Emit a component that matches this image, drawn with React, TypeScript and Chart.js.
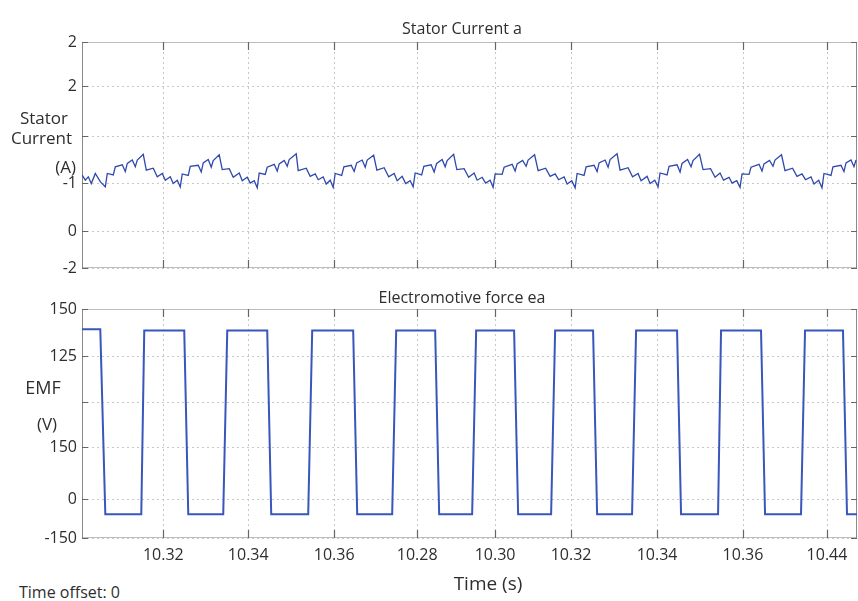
import React, { useEffect, useRef } from "react";
import { Chart, registerables } from "chart.js";

Chart.register(...registerables);

// ---------- data ----------
const xTickTimes = [10.32, 10.34048, 10.3612, 10.3812, 10.4, 10.41832, 10.43905, 10.45977, 10.48002];
const xTickLabels = ["10.32", "10.34", "10.36", "10.28", "10.30", "10.32", "10.34", "10.36", "10.44"];
const timeMin = 10.3004;
const timeMax = 10.48725;

const currentTickValues = [-0.77, 0, 1.0, 1.98, 3.02, 3.94];
const currentTickLabels = ["-2", "0", "-1", "", "2", "2"];

const emfTickValues = [-30.8, 0, 41.0, 76.6, 112.9, 150];
const emfTickLabels = ["-150", "0", "150", "", "125", "150"];

const currentTime = [
  10.3004, 10.3012, 10.30192, 10.30264, 10.30361, 10.30481,
  10.30602, 10.3065, 10.30794, 10.30843, 10.31011, 10.31084, 10.31132, 10.31252, 10.31325, 10.31373, 10.31517, 10.3159, 10.31758, 10.31855, 10.31975, 10.32048, 10.32168, 10.3224, 10.32337,
  10.32409, 10.32457, 10.32602, 10.3265, 10.32843, 10.32915, 10.32963, 10.33084, 10.33156, 10.33204, 10.33349, 10.33421, 10.3359, 10.33686, 10.33831, 10.33903, 10.34024, 10.34096, 10.34192,
  10.34265, 10.34313, 10.34458, 10.34506, 10.34674, 10.34747, 10.34795, 10.34915, 10.34988, 10.35036, 10.35205, 10.35253, 10.35446, 10.35542, 10.35663, 10.35735, 10.35855, 10.35928, 10.36024,
  10.36096, 10.36145, 10.36301, 10.36354, 10.3653, 10.36602, 10.36663, 10.36795, 10.36868, 10.36916, 10.37072, 10.37149, 10.37325, 10.37434, 10.37566, 10.37639, 10.37759, 10.37844, 10.37952,
  10.38024, 10.38073, 10.38229, 10.38282, 10.38458, 10.3853, 10.38591, 10.38723, 10.38796, 10.38844, 10.39, 10.39077, 10.39253, 10.39362, 10.39494, 10.39567, 10.39687, 10.39772, 10.3988,
  10.39952, 10.40001, 10.40169, 10.40217, 10.4041, 10.40483, 10.40531, 10.40663, 10.40748, 10.40796, 10.40952, 10.41037, 10.41218, 10.41326, 10.41447, 10.41531, 10.41663, 10.41736, 10.41849,
  10.41929, 10.41977, 10.42145, 10.42194, 10.42386, 10.42459, 10.42507, 10.42652, 10.42724, 10.42772, 10.42941, 10.43013, 10.43206, 10.43314, 10.43447, 10.43519, 10.43664, 10.43736, 10.43849,
  10.43929, 10.43977, 10.44146, 10.44194, 10.44387, 10.44459, 10.44507, 10.4464, 10.44724, 10.44772, 10.44929, 10.45013, 10.45194, 10.45303, 10.45423, 10.45507, 10.4564, 10.45712, 10.45825,
  10.45905, 10.45953, 10.46122, 10.4617, 10.46363, 10.46435, 10.46483, 10.46616, 10.467, 10.46748, 10.46905, 10.46989, 10.4717, 10.47279, 10.47399, 10.47483, 10.47616, 10.47688, 10.47801,
  10.47881, 10.47929, 10.48098, 10.48146, 10.48339, 10.48411, 10.4846, 10.4858, 10.48652, 10.48701,
];

const currentAmps = [
  1.17, 1.06, 1.13, 0.99, 1.2, 1.03,
  0.92, 1.2, 1.17, 1.34, 1.38, 1.24, 1.41, 1.48, 1.34, 1.48, 1.6, 1.27, 1.31, 1.13, 1.2, 1.06, 1.13, 0.99, 1.06,
  0.92, 1.19, 1.16, 1.35, 1.37, 1.23, 1.42, 1.49, 1.33, 1.47, 1.59, 1.28, 1.3, 1.12, 1.21, 1.05, 1.12, 1.0, 1.05,
  0.9, 1.21, 1.18, 1.33, 1.39, 1.25, 1.4, 1.47, 1.35, 1.49, 1.61, 1.26, 1.31, 1.14, 1.19, 1.07, 1.13, 0.98, 1.06,
  0.91, 1.2, 1.16, 1.34, 1.37, 1.24, 1.42, 1.48, 1.33, 1.48, 1.58, 1.27, 1.32, 1.13, 1.2, 1.05, 1.14, 0.99, 1.05,
  0.92, 1.21, 1.17, 1.35, 1.38, 1.23, 1.41, 1.49, 1.34, 1.47, 1.6, 1.28, 1.3, 1.12, 1.21, 1.06, 1.12, 1.0, 1.06,
  0.91, 1.19, 1.18, 1.33, 1.39, 1.25, 1.4, 1.47, 1.35, 1.48, 1.59, 1.26, 1.31, 1.14, 1.19, 1.07, 1.13, 0.98, 1.05,
  0.9, 1.2, 1.16, 1.34, 1.37, 1.24, 1.42, 1.48, 1.33, 1.49, 1.61, 1.27, 1.32, 1.13, 1.2, 1.05, 1.14, 0.99, 1.06,
  0.92, 1.21, 1.17, 1.35, 1.38, 1.23, 1.41, 1.49, 1.34, 1.47, 1.6, 1.28, 1.3, 1.12, 1.21, 1.06, 1.12, 1.0, 1.05,
  0.91, 1.19, 1.18, 1.33, 1.39, 1.25, 1.4, 1.47, 1.35, 1.48, 1.59, 1.26, 1.31, 1.14, 1.19, 1.07, 1.13, 0.98, 1.06,
  0.9, 1.2, 1.16, 1.34, 1.37, 1.24, 1.42, 1.48, 1.34, 1.48,
];

const emfTime = [
  10.3004, 10.30481, 10.30602, 10.31469, 10.31541, 10.32505, 10.32602, 10.33445, 10.33542, 10.34506,
  10.34602, 10.35494, 10.3559, 10.36578, 10.36675, 10.37518, 10.37615, 10.38555, 10.38651, 10.39446,
  10.39543, 10.40458, 10.40555, 10.4135, 10.41447, 10.42362, 10.42459, 10.43302, 10.43399, 10.44387,
  10.44483, 10.45375, 10.45447, 10.46411, 10.46508, 10.47375, 10.47472, 10.48387, 10.48484, 10.48725,
];
const emfVolts = [
  134, 134, -12, -12, 133, 133, -12, -12, 133, 133,
  -12, -12, 133, 133, -12, -12, 133, 133, -12, -12,
  133, 133, -12, -12, 133, 133, -12, -12, 133, 133,
  -12, -12, 133, 133, -12, -12, 133, 133, -12, -12,
];

// ---------- styling ----------
const FONT = "'Open Sans', 'Noto Sans', sans-serif";
const TEXT = "#2e2e2e";

const framePlugin = {
  id: "frame",
  beforeDatasetsDraw(chart: any) {
    const { ctx, chartArea: a, scales } = chart;
    const xs = scales.x;
    const ys = scales.y;
    ctx.save();
    // dotted grid
    ctx.strokeStyle = "#c8c8c8";
    ctx.lineWidth = 1;
    ctx.setLineDash([2, 3]);
    xs.ticks.forEach((t: any) => {
      const x = Math.round(xs.getPixelForValue(t.value)) + 0.5;
      ctx.beginPath();
      ctx.moveTo(x, a.top);
      ctx.lineTo(x, a.bottom);
      ctx.stroke();
    });
    ys.ticks.forEach((t: any) => {
      const y = Math.round(ys.getPixelForValue(t.value)) + 0.5;
      ctx.beginPath();
      ctx.moveTo(a.left, y);
      ctx.lineTo(a.right, y);
      ctx.stroke();
    });
    ctx.setLineDash([]);
    // frame
    ctx.strokeStyle = "#bdbdbd";
    ctx.strokeRect(a.left + 0.5, a.top + 0.5, a.width - 1, a.height - 1);
    ctx.strokeStyle = "#8a8a8a";
    ctx.beginPath();
    ctx.moveTo(a.left + 0.5, a.top);
    ctx.lineTo(a.left + 0.5, a.bottom);
    ctx.moveTo(a.right - 0.5, a.top);
    ctx.lineTo(a.right - 0.5, a.bottom);
    ctx.stroke();
    // inward tick marks
    ctx.strokeStyle = "#666";
    ctx.lineWidth = 1.2;
    ctx.beginPath();
    xs.ticks.forEach((t: any) => {
      const x = Math.round(xs.getPixelForValue(t.value)) + 0.5;
      ctx.moveTo(x, a.top);
      ctx.lineTo(x, a.top + 8);
      ctx.moveTo(x, a.bottom);
      ctx.lineTo(x, a.bottom - 8);
    });
    ys.ticks.forEach((t: any) => {
      const y = Math.round(ys.getPixelForValue(t.value)) + 0.5;
      ctx.moveTo(a.left, y);
      ctx.lineTo(a.left + 6, y);
      ctx.moveTo(a.right, y);
      ctx.lineTo(a.right - 6, y);
    });
    ctx.stroke();
    ctx.restore();
  },
};

function makeConfig(
  times: number[],
  values: number[],
  yMin: number,
  yMax: number,
  yTicks: number[],
  yLabels: string[],
  showX: boolean,
  color: string,
  width: number,
  padTop: number,
  padBottom: number,
  xHeight: number
): any {
  return {
    type: "line",
    data: {
      datasets: [
        {
          data: times.map((t, i) => ({ x: t, y: values[i] })),
          borderColor: color,
          borderWidth: width,
          pointRadius: 0,
          tension: 0,
          fill: false,
        },
      ],
    },
    options: {
      animation: false,
      responsive: false,
      events: [],
      layout: { padding: { left: 0, right: 1, top: padTop, bottom: padBottom } },
      plugins: { legend: { display: false }, tooltip: { enabled: false }, title: { display: false } },
      scales: {
        x: {
          type: "linear",
          min: timeMin,
          max: timeMax,
          grid: { display: false, drawTicks: false },
          border: { display: false },
          afterBuildTicks: (s: any) => {
            s.ticks = xTickTimes.map((v) => ({ value: v }));
          },
          afterFit: (s: any) => {
            s.height = xHeight;
          },
          ticks: {
            display: showX,
            autoSkip: false,
            maxRotation: 0,
            padding: 8,
            color: TEXT,
            font: { family: FONT, size: 16 },
            callback: (_v: any, i: number) => xTickLabels[i],
          },
        },
        y: {
          type: "linear",
          min: yMin,
          max: yMax,
          grid: { display: false, drawTicks: false },
          border: { display: false },
          afterBuildTicks: (s: any) => {
            s.ticks = yTicks.map((v) => ({ value: v }));
          },
          afterFit: (s: any) => {
            s.width = 82;
          },
          ticks: {
            autoSkip: false,
            padding: 5,
            color: TEXT,
            font: { family: FONT, size: 16 },
            callback: (_v: any, i: number) => yLabels[i],
          },
        },
      },
    },
    plugins: [framePlugin],
  };
}

function Label(props: { x: number; y: number; size: number; text: string; align?: string }) {
  const { x, y, size, text, align } = props;
  const tx = align === "right" ? "-100%" : align === "left" ? "0" : "-50%";
  return (
    <div
      style={{
        position: "absolute",
        left: x,
        top: y,
        transform: `translate(${tx}, -50%)`,
        fontFamily: FONT,
        fontSize: size,
        color: TEXT,
        whiteSpace: "nowrap",
        lineHeight: 1,
      }}
    >
      {text}
    </div>
  );
}

export default function App() {
  const topRef = useRef<HTMLCanvasElement>(null);
  const botRef = useRef<HTMLCanvasElement>(null);

  useEffect(() => {
    const c1 = new Chart(
      topRef.current as HTMLCanvasElement,
      makeConfig(currentTime, currentAmps, -0.77, 3.94, currentTickValues, currentTickLabels, false, "#2f48ad", 1.3, 42, 22, 0)
    );
    const c2 = new Chart(
      botRef.current as HTMLCanvasElement,
      makeConfig(emfTime, emfVolts, -30.8, 150, emfTickValues, emfTickLabels, true, "#3856bc", 2, 19, 12, 30)
    );
    return () => {
      c1.destroy();
      c2.destroy();
    };
  }, []);

  return (
    <div style={{ position: "fixed", left: 0, top: 0, width: 858, height: 601, background: "#ffffff", overflow: "hidden" }}>
      <canvas ref={topRef} width={858} height={290} style={{ position: "absolute", left: 0, top: 0, display: "block" }} />
      <canvas ref={botRef} width={858} height={290} style={{ position: "absolute", left: 0, top: 290, display: "block" }} />
      <Label x={462} y={28} size={16} text="Stator Current a" />
      <Label x={462} y={297} size={16} text="Electromotive force ea" />
      <Label x={68} y={117} size={17} text="Stator" align="right" />
      <Label x={72} y={137} size={17} text="Current" align="right" />
      <Label x={76} y={166} size={17} text="(A)" align="right" />
      <Label x={43} y={387} size={18} text="EMF" />
      <Label x={47} y={423} size={17} text="(V)" />
      <Label x={488} y={583} size={19} text="Time (s)" />
      <Label x={19} y={592} size={16} text="Time offset: 0" align="left" />
    </div>
  );
}
